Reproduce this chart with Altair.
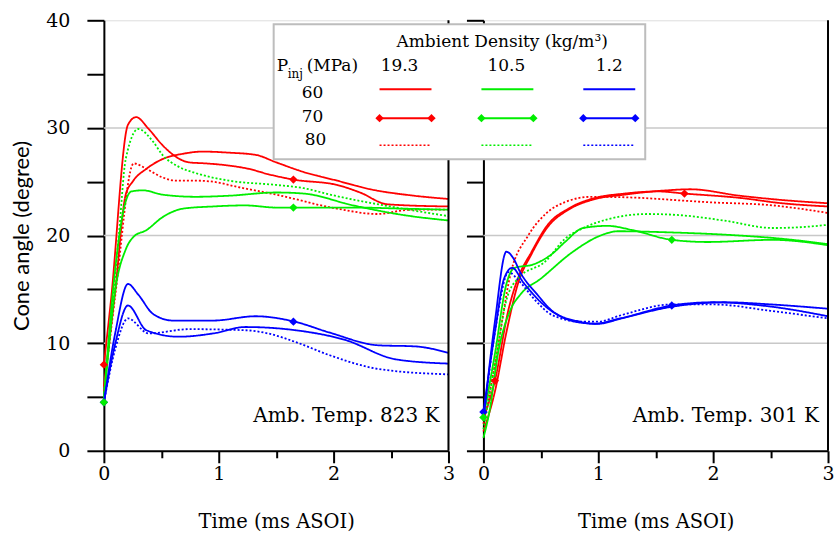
import altair as alt
import pandas as pd

DENSITIES = ["19.3", "10.5", "1.2"]
PRESSURES = ["60", "70", "80"]
COLORS = ["#ff0000", "#00ee00", "#0000ff"]
PANELS = ["823", "301"]
TEMP_LABELS = ["Amb. Temp. 823 K", "Amb. Temp. 301 K"]

# ---------------- Left panel (823 K) ----------------
L_R60_T = [0, 0.10, 0.19, 0.25, 0.37, 0.51, 0.69, 0.86, 1.09, 1.32, 1.50, 1.74, 2.03, 2.32, 2.7, 3.0]
L_R60_V = [6.0, 15.0, 23.8, 25.0, 26.2, 27.1, 27.6, 27.8, 27.7, 27.5, 26.8, 25.9, 25.1, 24.3, 23.7, 23.4]
L_R70_T = [0, 0.06, 0.21, 0.28, 0.39, 0.51, 0.63, 0.74, 0.89, 1.09, 1.26, 1.43, 1.65, 2.03, 2.23, 2.47, 3.0]
L_R70_V = [8.0, 13.8, 30.3, 31.0, 29.9, 28.4, 27.3, 26.8, 26.7, 26.5, 26.2, 25.7, 25.2, 24.7, 24.0, 22.9, 22.7]
L_R80_T = [0, 0.10, 0.26, 0.37, 0.51, 0.63, 0.8, 0.95, 1.17, 1.5, 2.03, 2.38, 2.67, 3.0]
L_R80_V = [5.5, 14.5, 26.7, 26.2, 25.4, 25.1, 25.1, 25.0, 24.5, 23.8, 22.5, 22.0, 22.4, 22.4]
L_G60_T = [0, 0.10, 0.17, 0.24, 0.34, 0.51, 0.8, 1.09, 1.5, 1.74, 2.17, 2.61, 3.0]
L_G60_V = [4.8, 17.0, 22.3, 24.1, 24.2, 23.8, 23.6, 23.7, 24.0, 23.9, 22.8, 21.9, 21.4]
L_G70_T = [0, 0.10, 0.19, 0.26, 0.37, 0.51, 0.69, 0.95, 1.23, 1.5, 1.65, 2.2, 2.6, 3.0]
L_G70_V = [4.5, 15.0, 18.7, 19.9, 20.5, 21.7, 22.5, 22.7, 22.8, 22.6, 22.6, 22.6, 22.5, 22.4]
L_G80_T = [0, 0.13, 0.19, 0.30, 0.43, 0.51, 0.65, 0.8, 1.09, 1.5, 1.74, 1.97, 2.6, 3.0]
L_G80_V = [5.0, 20.0, 27.1, 29.9, 28.7, 27.5, 26.4, 25.8, 25.1, 24.7, 24.4, 23.8, 22.5, 21.8]
L_B60_T = [0, 0.10, 0.21, 0.37, 0.65, 0.95, 1.23, 1.67, 2.1, 2.54, 3.0]
L_B60_V = [4.5, 10.0, 13.5, 11.2, 10.6, 10.9, 11.5, 11.2, 10.3, 8.5, 8.1]
L_B70_T = [0, 0.10, 0.21, 0.30, 0.43, 0.6, 0.95, 1.32, 1.66, 1.96, 2.39, 2.71, 3.0]
L_B70_V = [4.5, 11.0, 15.5, 14.5, 12.7, 12.1, 12.1, 12.5, 12.0, 11.0, 9.8, 9.7, 9.1]
L_B80_T = [0, 0.10, 0.21, 0.39, 0.74, 1.23, 1.43, 1.67, 1.96, 2.39, 3.0]
L_B80_V = [4.5, 9.5, 12.3, 10.9, 11.3, 11.2, 10.9, 10.1, 8.9, 7.6, 7.1]

# ---------------- Right panel (301 K) ----------------
R_R60_T = [0, 0.10, 0.20, 0.30, 0.42, 0.56, 0.74, 0.94, 1.23, 1.6, 1.8, 2.23, 2.6, 3.0]
R_R60_V = [1.8, 5.5, 11.0, 15.5, 18.3, 20.8, 22.4, 23.3, 23.8, 24.2, 24.3, 23.7, 23.3, 23.0]
R_R70_T = [0, 0.10, 0.22, 0.30, 0.42, 0.56, 0.74, 0.94, 1.23, 1.52, 1.75, 2.23, 2.6, 3.0]
R_R70_V = [3.0, 6.5, 13.2, 16.0, 18.5, 21.0, 22.5, 23.4, 23.9, 24.1, 23.9, 23.5, 23.0, 22.7]
R_R80_T = [0, 0.10, 0.24, 0.39, 0.54, 0.71, 0.94, 1.37, 1.52, 1.95, 2.52, 3.0]
R_R80_V = [2.5, 8.0, 16.6, 20.0, 22.0, 23.1, 23.6, 23.5, 23.4, 23.1, 22.8, 22.1]
R_G60_T = [0, 0.05, 0.13, 0.24, 0.32, 0.5, 0.78, 1.02, 1.17, 1.6, 2.23, 2.6, 3.0]
R_G60_V = [1.2, 3.5, 9.2, 13.2, 14.5, 16.0, 18.5, 20.0, 20.4, 20.3, 20.0, 19.7, 19.2]
R_G70_T = [0, 0.10, 0.20, 0.27, 0.43, 0.61, 0.71, 0.87, 1.08, 1.3, 1.64, 1.95, 2.52, 3.0]
R_G70_V = [3.1, 9.0, 15.5, 17.0, 17.3, 18.4, 19.4, 20.7, 20.9, 20.5, 19.6, 19.4, 19.6, 19.1]
R_G80_T = [0, 0.10, 0.20, 0.30, 0.54, 0.71, 0.85, 1.08, 1.43, 1.7, 2.09, 2.52, 2.8, 3.0]
R_G80_V = [2.0, 8.0, 14.0, 16.0, 17.6, 19.7, 20.6, 21.5, 22.0, 21.9, 21.4, 20.7, 20.8, 21.0]
R_B60_T = [0, 0.10, 0.20, 0.26, 0.32, 0.47, 0.61, 0.84, 0.96, 1.19, 1.65, 2.1, 2.5, 3.0]
R_B60_V = [2.8, 12.0, 18.5, 17.9, 16.6, 14.5, 12.9, 12.0, 11.8, 12.3, 13.4, 13.8, 13.6, 13.2]
R_B70_T = [0, 0.10, 0.18, 0.25, 0.35, 0.5, 0.65, 0.85, 1.0, 1.2, 1.64, 2.0, 2.5, 3.0]
R_B70_V = [3.6, 11.0, 16.0, 17.0, 15.6, 13.8, 12.6, 11.9, 11.8, 12.3, 13.5, 13.8, 13.4, 12.5]
R_B80_T = [0, 0.10, 0.22, 0.30, 0.45, 0.6, 0.85, 1.0, 1.2, 1.64, 2.0, 2.5, 3.0]
R_B80_V = [3.0, 11.0, 16.6, 15.9, 14.0, 12.6, 12.0, 12.0, 12.6, 13.6, 13.6, 13.0, 12.3]

# Diamond markers on the 70 MPa curves (order: red, blue, green)
L_MK_DENS = ["19.3", "19.3", "1.2", "1.2", "10.5", "10.5"]
L_MK_T = [0, 1.65, 0, 1.65, 0, 1.65]
L_MK_V = [8.0, 25.2, 4.5, 12.0, 4.5, 22.6]
R_MK_DENS = ["19.3", "19.3", "1.2", "1.2", "10.5", "10.5"]
R_MK_T = [0.10, 1.75, 0, 1.64, 0, 1.64]
R_MK_V = [6.5, 23.9, 3.6, 13.5, 3.1, 19.6]

GRID_Y = [10, 20, 30]
BORDER_X = [3]
Y_TICKS = [0, 5, 10, 15, 20, 25, 30, 35, 40]
X_TICKS = [0, 0.5, 1, 1.5, 2, 2.5, 3]

SERIES = {
    "823": [("19.3", "60", L_R60_T, L_R60_V), ("19.3", "70", L_R70_T, L_R70_V), ("19.3", "80", L_R80_T, L_R80_V),
            ("10.5", "60", L_G60_T, L_G60_V), ("10.5", "70", L_G70_T, L_G70_V), ("10.5", "80", L_G80_T, L_G80_V),
            ("1.2", "60", L_B60_T, L_B60_V), ("1.2", "70", L_B70_T, L_B70_V), ("1.2", "80", L_B80_T, L_B80_V)],
    "301": [("19.3", "60", R_R60_T, R_R60_V), ("19.3", "70", R_R70_T, R_R70_V), ("19.3", "80", R_R80_T, R_R80_V),
            ("10.5", "60", R_G60_T, R_G60_V), ("10.5", "70", R_G70_T, R_G70_V), ("10.5", "80", R_G80_T, R_G80_V),
            ("1.2", "60", R_B60_T, R_B60_V), ("1.2", "70", R_B70_T, R_B70_V), ("1.2", "80", R_B80_T, R_B80_V)],
}
MARKERS = {"823": (L_MK_DENS, L_MK_T, L_MK_V), "301": (R_MK_DENS, R_MK_T, R_MK_V)}

SERIF = "DejaVu Serif"
SANS = "Lato"

color_scale = alt.Scale(domain=DENSITIES, range=COLORS)


def line_df(panel):
    rows = []
    for dens, pres, ts, vs in SERIES[panel]:
        for t, v in zip(ts, vs):
            rows.append({"density": dens, "pressure": pres, "sid": dens + "-" + pres, "t": t, "v": v})
    return pd.DataFrame(rows)


def x_axis():
    return alt.Axis(values=X_TICKS, labelExpr="datum.value % 1 === 0 ? format(datum.value, 'd') : ''",
                    tickSize={"condition": {"test": "datum.value % 1 === 0", "value": 12}, "value": 7},
                    tickColor="black", tickWidth=2, domainColor="black", domainWidth=2,
                    labelFont=SERIF, labelFontSize=19, labelColor="black", labelPadding=2,
                    labelFlush=False, labelOverlap=False, grid=False,
                    title="Time (ms ASOI)", titleFont=SERIF, titleFontSize=19.5,
                    titleFontWeight="normal", titleColor="black", titlePadding=29)


def y_axis(left):
    if left:
        return alt.Axis(values=Y_TICKS, labelExpr="datum.value % 10 === 0 ? datum.label : ''",
                        tickSize=17, tickColor="black", tickWidth=2, domainColor="black", domainWidth=2,
                        labelFont=SERIF, labelFontSize=19, labelColor="black", labelPadding=17,
                        labelOverlap=False, grid=False, title="Cone angle (degree)",
                        titleFont=SANS, titleFontSize=22, titleFontWeight="normal",
                        titleColor="black", titlePadding=12)
    return alt.Axis(values=Y_TICKS, labels=False, tickSize=17, tickColor="black", tickWidth=2,
                    domainColor="black", domainWidth=2, grid=False, title=None)


def panel_chart(idx):
    panel = PANELS[idx]
    left = idx == 0
    xs = alt.Scale(domain=[0, 3], nice=False, zero=False)
    ys = alt.Scale(domain=[0, 40], nice=False)
    X = lambda f: alt.X(f, scale=xs, axis=x_axis())
    Y = lambda f: alt.Y(f, scale=ys, axis=y_axis(left))

    grid = alt.Chart(pd.DataFrame({"g": GRID_Y})).mark_rule(color="#c8c8c8", strokeWidth=1.5).encode(y=Y("g:Q"))
    lines = alt.Chart(line_df(panel)).mark_line(interpolate="monotone").encode(
        x=X("t:Q"), y=Y("v:Q"),
        color=alt.Color("density:N", scale=color_scale, legend=None),
        strokeDash=alt.StrokeDash("pressure:N", scale=alt.Scale(domain=PRESSURES, range=[[1, 0], [1, 0], [2, 2]]), legend=None),
        strokeWidth=alt.StrokeWidth("pressure:N", scale=alt.Scale(domain=PRESSURES, range=[1.8, 1.8, 1.5]), legend=None),
        detail="sid:N",
    )
    md, mt, mv = MARKERS[panel]
    marks = alt.Chart(pd.DataFrame({"density": md, "t": mt, "v": mv})).mark_point(
        shape="diamond", filled=True, size=70, opacity=1).encode(
        x=X("t:Q"), y=Y("v:Q"), color=alt.Color("density:N", scale=color_scale, legend=None))
    border = alt.Chart(pd.DataFrame({"b": BORDER_X})).mark_rule(color="black", strokeWidth=2).encode(x=X("b:Q"))
    ann = alt.Chart(pd.DataFrame({"s": [TEMP_LABELS[idx]]})).mark_text(
        align="right", baseline="middle", font=SERIF, fontSize=20, color="black").encode(
        text="s:N", x=alt.value(336), y=alt.value(396))
    layers = [grid, lines, marks, border, ann]
    if not left:
        layers += legend_layers()
    return alt.layer(*layers).properties(width=345, height=431)


def one(s=""):
    return alt.Chart(pd.DataFrame({"s": [s]}))


def txt(s, x, y, size=17, align="left"):
    return one(s).mark_text(align=align, baseline="middle", font=SERIF, fontSize=size, color="black").encode(
        text="s:N", x=alt.value(x), y=alt.value(y))


def legend_layers():
    L = []
    L.append(one().mark_rect(fill="white", stroke="#bdbdbd", strokeWidth=2).encode(
        x=alt.value(-210), x2=alt.value(162), y=alt.value(4), y2=alt.value(139)))
    L.append(txt("Ambient Density (kg/m³)", -87, 22, 17))
    L.append(txt("P", -207, 46))
    L.append(txt("inj", -196, 54, 12))
    L.append(txt("(MPa)", -177, 46))
    for lab, cx in zip(DENSITIES, [-84, 23, 126]):
        L.append(txt(lab, cx, 46, 17, "center"))
    row_y = [69, 98, 125]
    for lab, lx, ly in zip(PRESSURES, [-171, -171, -168], [73, 97, 120]):
        L.append(txt(lab, lx, ly, 17, "center"))
    for c, x1 in zip(COLORS, [-104, -2, 100]):
        for k, ry in enumerate(row_y):
            if k == 2:
                L.append(one().mark_rule(color=c, strokeWidth=1.5, strokeDash=[2, 2]).encode(
                    x=alt.value(x1), x2=alt.value(x1 + 52), y=alt.value(ry)))
            else:
                L.append(one().mark_rule(color=c, strokeWidth=2).encode(
                    x=alt.value(x1), x2=alt.value(x1 + 52), y=alt.value(ry)))
            if k == 1:
                for xx in [x1, x1 + 52]:
                    L.append(one().mark_point(shape="diamond", filled=True, size=70, opacity=1, color=c).encode(
                        x=alt.value(xx), y=alt.value(ry)))
    return L


chart = alt.hconcat(panel_chart(0), panel_chart(1), spacing=35, bounds="flush").properties(
    padding={"left": 10, "top": 10, "right": 0, "bottom": 0}
).configure_view(stroke=None).configure(background="white")

chart.save("out.html", embed_options={"renderer": "svg", "actions": False})
